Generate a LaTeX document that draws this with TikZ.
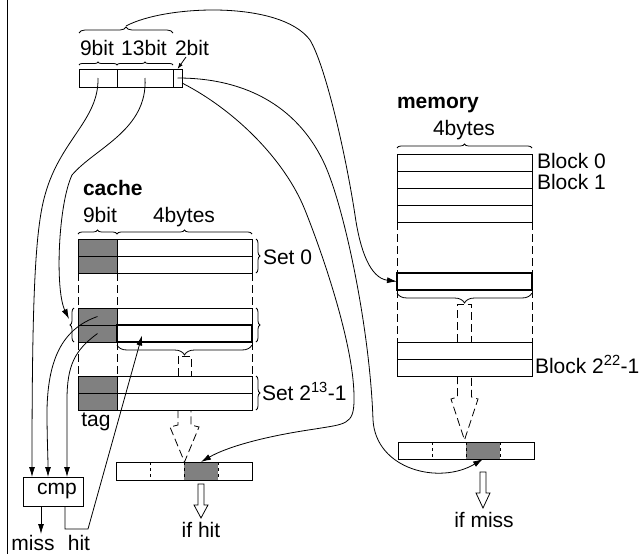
\documentclass[tikz,border=0pt]{standalone}
\usepackage{fontspec}
\setmainfont{Liberation Sans}
\usetikzlibrary{positioning, decorations.pathreplacing, calc, arrows.meta}

\begin{document}
\begin{tikzpicture}[
    x=1pt, y=-1pt,
    line width=0.8pt,
    >={Latex[length=10pt,width=6pt]},
    every node/.style={font=\fontsize{21}{25}\selectfont, inner sep=0pt, outer sep=0pt}, % all labels in one size
    cell/.style={draw, minimum height=17pt, anchor=north west},
    tagcell/.style={cell, fill=black!50, minimum width=39pt},
    datacell/.style={cell, minimum width=135pt},
    outcell/.style={anchor=north west, minimum width=34pt},
    hot/.style={line width=2.4pt},
    brc/.style={decorate, decoration={brace, amplitude=#1}},
    brc/.default=4pt,
    guide/.style={dash pattern=on 8pt off 4pt},
    hollow/.style={draw, fill=white},
    lbl/.style={anchor=base},
    head/.style={anchor=base west, font=\fontsize{21}{25}\selectfont\bfseries}
]
\useasboundingbox (0,0) rectangle (640,554);
\draw (7,0) -- (7,554);

% the address
\node[cell, minimum width=38pt, minimum height=18pt] (tagf) at (79,69) {};
\node[cell, minimum width=56pt, minimum height=18pt] (idxf) at (117,69) {};
\node[cell, minimum width=9pt, minimum height=18pt] (offf) at (173,69) {};
\draw[brc=3pt] ([yshift=4pt]tagf.north west) -- ([yshift=4pt]tagf.north east);
\draw[brc=3pt] ([yshift=4pt]idxf.north west) -- ([yshift=4pt]idxf.north east);
\node[lbl] (l9) at (97,55) {9bit};
\node[lbl] (l13) at (144,55) {13bit};
\node[lbl] (l2) at (192,55) {2bit};
\draw[brc=6pt] (79,33) -- (173,33);
\coordinate (blk) at (126,26);
\draw[-{Latex[length=6pt,width=4pt]}] (186,57) -- (offf.north);

% the cache
\node[head] (cachelbl) at (83,195) {cache};
\node[lbl] at (100,222) {9bit};
\node[lbl] at (184,222) {4bytes};
\draw[brc] (78,234) -- (117,234);
\draw[brc] (117,234) -- (252,234);
\foreach \n/\y in {s0/239, s1/308, s2/376} {
    \node[tagcell] (\n-t1) at (78,\y) {};
    \node[tagcell] (\n-t2) at (78,{\y+17}) {};
    \node[datacell] (\n-d1) at (117,\y) {};
    \node[datacell] (\n-d2) at (117,{\y+17}) {};
}
\draw[hot] (s1-d2.north west) rectangle (s1-d2.south east);
\foreach \x in {78,117,252} {
    \draw[guide] (\x,273) -- (\x,308);
    \draw[guide] (\x,342) -- (\x,376);
}
\draw[brc] (256,239) -- (256,273);
\node[anchor=base west] at (263,264) {Set 0};
\draw[brc] (74,342) -- (74,308);
\coordinate (setsel) at (69,319);
\draw[brc] (256,308) -- (256,342);
\draw[brc] (256,376) -- (256,410);
\node[anchor=base west] at (262,400) {Set 2\textsuperscript{13}-1};
\node[lbl] at (96,426) {tag};
\draw[brc=10pt] (252,345) -- (117,345);
\draw[guide] (178,376) -- (178,356) -- (191,356) -- (191,376);
\draw[guide] (178,410) -- (178,425) -- (170,427) -- (184.5,462) -- (199,427) -- (191,425) -- (191,410);

% byte out of the cache
\node[outcell, fill=black!50, minimum height=18pt] (chit) at (184,462) {};
\node[cell, minimum width=136pt, minimum height=18pt] (cout) at (116,462) {};
\foreach \x in {150,184,218}
    \draw[dashed] (\x,462) -- (\x,480);
\draw[hollow] (198,484) -- (198,505) -- (194,505) -- (201,518) -- (208,505) -- (204,505) -- (204,484) -- cycle;
\node[lbl] at (201,537) {if hit};

% the memory
\node[head] (memlbl) at (397,108) {memory};
\node[lbl] at (464,135) {4bytes};
\draw[brc] (397,148) -- (532,148);
\foreach \i in {0,...,3}
    \node[datacell] (m\i) at (397,{154+17*\i}) {};
\node[anchor=base west] at (537,168) {Block 0};
\node[anchor=base west] at (537,189) {Block 1};
\foreach \x in {397,532} {
    \draw[guide] (\x,222) -- (\x,273);
    \draw[guide] (\x,290) -- (\x,342);
}
\node[datacell, hot] (mk) at (397,273) {};
\draw[brc=10pt] (532,293) -- (397,293);
\draw[guide] (457.5,342) -- (457.5,304) -- (471.5,304) -- (471.5,342);
\node[datacell] (ml1) at (397,342) {};
\node[datacell] (ml2) at (397,359) {};
\node[anchor=base west] at (535,373) {Block 2\textsuperscript{22}-1};
\draw[guide] (457.5,376) -- (457.5,397) -- (451,399) -- (464.5,440) -- (478,399) -- (471.5,397) -- (471.5,376);

% byte out of the memory
\node[outcell, fill=black!50, minimum height=17pt] (mmiss) at (466,442) {};
\node[cell, minimum width=136pt] (mout) at (398,442) {};
\foreach \x in {432,466,500}
    \draw[dashed] (\x,442) -- (\x,459);
\draw[hollow] (480,472) -- (480,493) -- (476,493) -- (483,508) -- (490,493) -- (486,493) -- (486,472) -- cycle;
\node[lbl] at (484,527) {if miss};

% the compare
\node[draw, minimum width=60pt, minimum height=29pt] (cmp) at (53,491.5) {\hspace{8pt}cmp};
\draw[->] ($(cmp.south west)+(18,0)$) -- ++(0,28);
\node[lbl] at (33,550) {miss};
\node[lbl] at (79,550) {hit};
\draw[->] ($(cmp.south east)+(-18,0)$) -- ++(0,23) -- (88,529) -- ($(s1-d2.west)+(25,2)$);

% the wires
\draw[->] (blk) .. controls (165,5) and (280,0) .. (310,40)
    .. controls (325,65) and (345,150) .. (355,215)
    .. controls (360,250) and (370,278) .. (mk.west);
\draw[->] (offf.center) .. controls (250,78) and (300,110) .. (325,165)
    .. controls (345,210) and (370,330) .. (373,420)
    .. controls (376,470) and (440,485) .. (mmiss.south);
\draw[->] ([yshift=4pt]offf.south east) .. controls (235,110) and (285,160) .. (305,210)
    .. controls (325,260) and (355,350) .. (354,400)
    .. controls (354,425) and (345,424) .. (315,429)
    .. controls (260,437) and (225,448) .. (chit.north);
\draw[->] (tagf.center) .. controls (99,120) and (60,140) .. (45,195)
    .. controls (35,230) and (32,300) .. ($(cmp.north west)+(9,0)$);
\draw[->] (idxf.center) .. controls (148,130) and (95,148) .. (72,175)
    .. controls (58,205) and (55,290) .. (setsel);
\draw[->] (s1-t1.center) .. controls (65,328) and (48,355) .. (47,410)
    .. controls (47,440) and (48,455) .. ($(cmp.north west)+(25,0)$);
\draw[->] (s1-t2.center) .. controls (75,350) and (67,365) .. (67,400)
    -- ($(cmp.north west)+(44,0)$);
\end{tikzpicture}
\end{document}
